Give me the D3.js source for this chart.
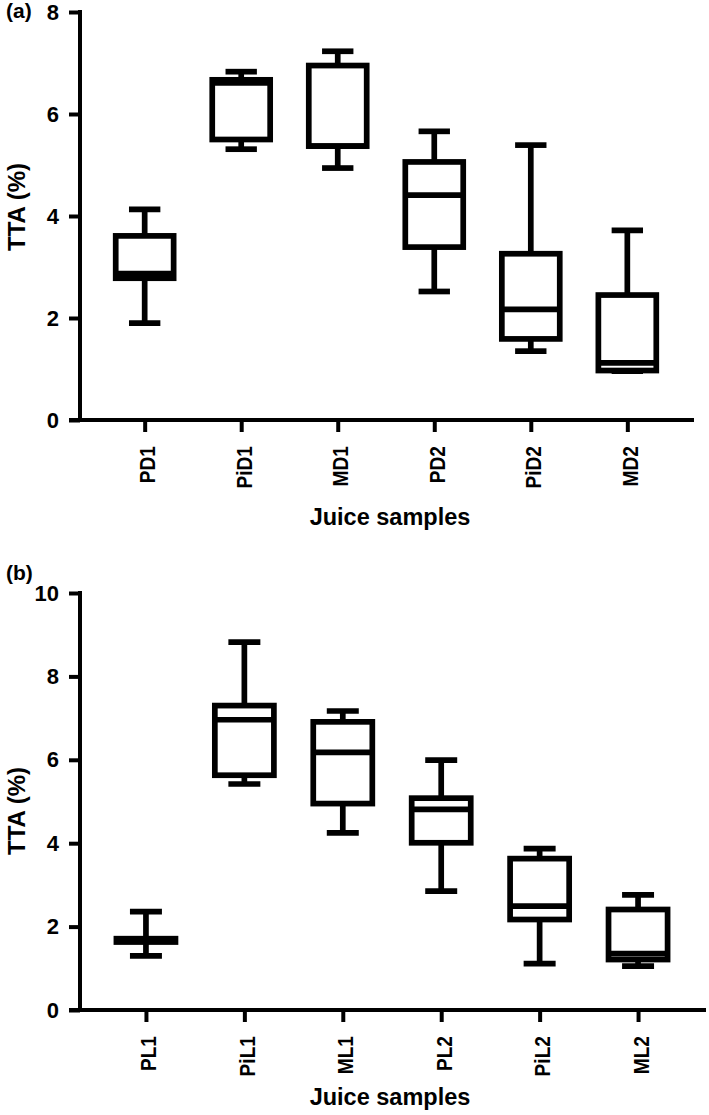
<!DOCTYPE html>
<html>
<head>
<meta charset="utf-8">
<script src="https://cdn.jsdelivr.net/npm/d3@7"></script>
<style>
  html, body { margin: 0; padding: 0; background: #fff; }
  svg { display: block; }
  text { font-family: "Liberation Sans", Arial, sans-serif; font-weight: bold; fill: #000; }
</style>
</head>
<body>
<svg id="chart" width="709" height="1115"></svg>
<script>
// ---------- Panel (a): dry samples ----------
const categoriesA = ["PD1", "PiD1", "MD1", "PD2", "PiD2", "MD2"];
const minA    = [1.90, 5.31, 4.94, 2.52, 1.35, 0.96];
const q1A     = [2.78, 5.50, 5.37, 3.39, 1.59, 0.97];
const medianA = [2.87, 6.61, 5.37, 4.41, 2.17, 1.12];
const q3A     = [3.61, 6.67, 6.95, 5.06, 3.26, 2.45];
const maxA    = [4.13, 6.83, 7.23, 5.66, 5.39, 3.72];
const ticksA  = [0, 2, 4, 6, 8];

// ---------- Panel (b): liquid samples ----------
const categoriesB = ["PL1", "PiL1", "ML1", "PL2", "PiL2", "ML2"];
const minB    = [1.30, 5.42, 4.25, 2.85, 1.11, 1.05];
const q1B     = [1.63, 5.63, 4.95, 4.01, 2.17, 1.21];
const medianB = [1.67, 6.96, 6.18, 4.81, 2.49, 1.35];
const q3B     = [1.71, 7.30, 6.91, 5.08, 3.63, 2.41];
const maxB    = [2.36, 8.82, 7.17, 5.99, 3.87, 2.76];
const ticksB  = [0, 2, 4, 6, 8, 10];

const yLabel = "TTA (%)";
const xLabel = "Juice samples";

const svg = d3.select("#chart");

function drawPanel(opt) {
  const g = svg.append("g");
  const x = d3.scalePoint().domain(opt.categories).range([opt.left, opt.right]).padding(0.67);
  const y = d3.scaleLinear().domain([0, opt.ymax]).range([opt.bottom, opt.top]);
  const step = x.step();
  const boxW = step * 0.6;
  const capW = step * 0.325;
  const SW = 5.7;

  // y axis
  const yAxis = g.append("g")
    .attr("transform", `translate(${opt.left},0)`)
    .call(d3.axisLeft(y).tickValues(opt.ticks).tickSize(11).tickSizeOuter(0).tickPadding(10));
  yAxis.select(".domain").remove();
  yAxis.selectAll(".tick line").attr("stroke", "#000").attr("stroke-width", 4);
  yAxis.selectAll(".tick text").attr("font-size", 22).attr("fill", "#000");
  g.append("line")
    .attr("x1", opt.left).attr("x2", opt.left)
    .attr("y1", y(opt.ymax) - 2).attr("y2", y(0) + 2)
    .attr("stroke", "#000").attr("stroke-width", 4);

  // x axis
  const xAxis = g.append("g")
    .attr("transform", `translate(0,${opt.bottom})`)
    .call(d3.axisBottom(x).tickSize(12).tickSizeOuter(0));
  xAxis.select(".domain").remove();
  xAxis.selectAll(".tick line").attr("stroke", "#000").attr("stroke-width", 4);
  xAxis.selectAll(".tick text")
    .attr("font-size", 22)
    .attr("fill", "#000")
    .attr("text-anchor", "end")
    .attr("x", 0).attr("y", 0)
    .attr("dy", 10)
    .attr("transform", "translate(0,26) rotate(-90) scale(0.87,1)");
  g.append("line")
    .attr("x1", opt.left - 11).attr("x2", opt.axisEnd)
    .attr("y1", opt.bottom).attr("y2", opt.bottom)
    .attr("stroke", "#000").attr("stroke-width", 4);

  // boxes
  const data = opt.categories.map((c, i) => ({
    c, min: opt.min[i], q1: opt.q1[i], med: opt.median[i], q3: opt.q3[i], max: opt.max[i]
  }));
  const bx = g.append("g").selectAll("g").data(data).join("g")
    .attr("transform", d => `translate(${x(d.c)},0)`);
  // whiskers
  bx.append("line").attr("x1", 0).attr("x2", 0)
    .attr("y1", d => y(d.max)).attr("y2", d => y(d.q3))
    .attr("stroke", "#000").attr("stroke-width", SW);
  bx.append("line").attr("x1", 0).attr("x2", 0)
    .attr("y1", d => y(d.q1)).attr("y2", d => y(d.min))
    .attr("stroke", "#000").attr("stroke-width", SW);
  // caps
  bx.append("line").attr("x1", -capW / 2).attr("x2", capW / 2)
    .attr("y1", d => y(d.max)).attr("y2", d => y(d.max))
    .attr("stroke", "#000").attr("stroke-width", SW);
  bx.append("line").attr("x1", -capW / 2).attr("x2", capW / 2)
    .attr("y1", d => y(d.min)).attr("y2", d => y(d.min))
    .attr("stroke", "#000").attr("stroke-width", SW);
  // box
  bx.append("rect")
    .attr("x", -boxW / 2).attr("width", boxW)
    .attr("y", d => y(d.q3)).attr("height", d => y(d.q1) - y(d.q3))
    .attr("fill", "#fff").attr("stroke", "#000").attr("stroke-width", SW);
  // median
  bx.append("line").attr("x1", -boxW / 2).attr("x2", boxW / 2)
    .attr("y1", d => y(d.med)).attr("y2", d => y(d.med))
    .attr("stroke", "#000").attr("stroke-width", SW);

  // axis titles
  g.append("text")
    .attr("transform", `translate(25,${opt.yLabelY}) rotate(-90)`)
    .attr("text-anchor", "middle")
    .attr("font-size", 24)
    .text(yLabel);
  g.append("text")
    .attr("x", 390).attr("y", opt.xLabelY)
    .attr("text-anchor", "middle")
    .attr("font-size", 23.5)
    .text(xLabel);
  g.append("text")
    .attr("x", 6).attr("y", opt.tagY)
    .attr("font-size", 21)
    .text(opt.tag);
}

drawPanel({
  categories: categoriesA, min: minA, q1: q1A, median: medianA, q3: q3A, max: maxA,
  ticks: ticksA, ymax: 8, left: 80, right: 692, axisEnd: 694, top: 12, bottom: 420,
  yLabelY: 207, xLabelY: 525, tag: "(a)", tagY: 18
});
drawPanel({
  categories: categoriesB, min: minB, q1: q1B, median: medianB, q3: q3B, max: maxB,
  ticks: ticksB, ymax: 10, left: 80, right: 704, axisEnd: 706, top: 593, bottom: 1010,
  yLabelY: 811, xLabelY: 1105, tag: "(b)", tagY: 580
});
</script>
</body>
</html>
